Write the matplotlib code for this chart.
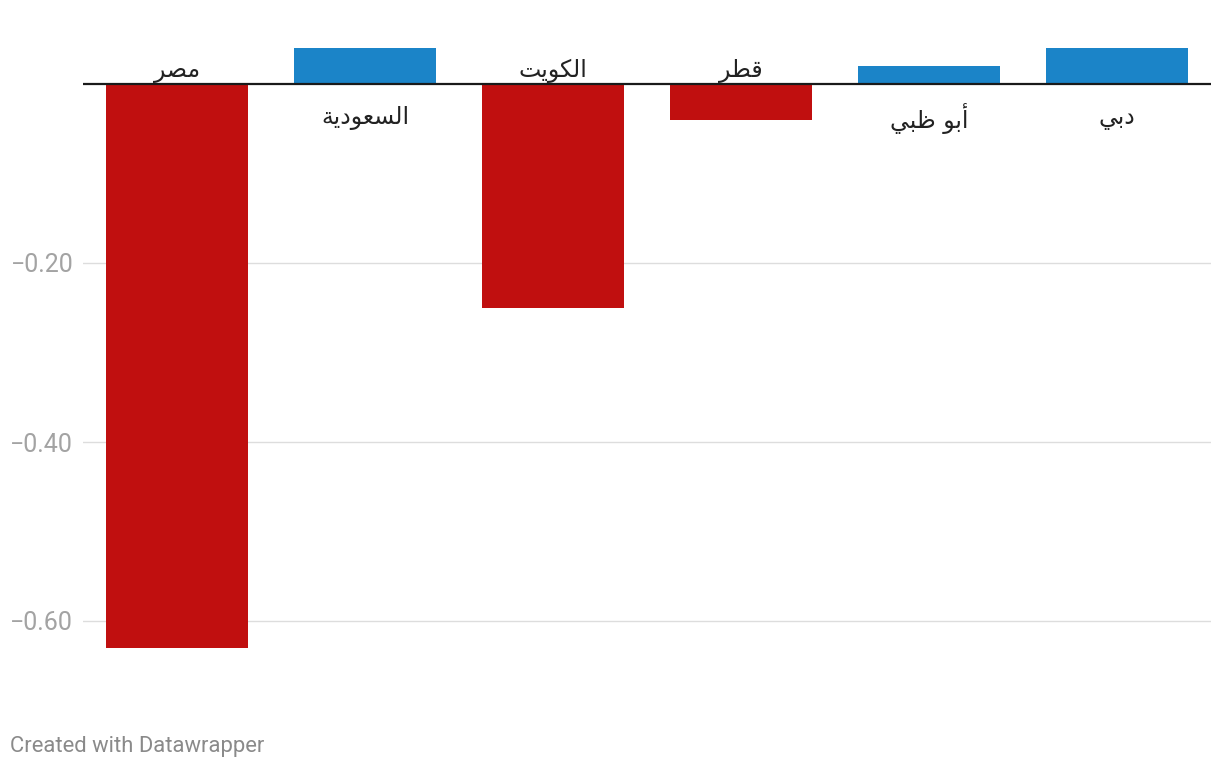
import matplotlib
matplotlib.use('Agg')
import matplotlib.pyplot as plt
import numpy as np

# data
countries = ['مصر', 'السعودية', 'الكويت', 'قطر', 'أبو ظبي', 'دبي']
values = [-0.63, 0.04, -0.25, -0.04, 0.02, 0.04]
yticks = [-0.20, -0.40, -0.60]
ytick_labels = ['\u22120.20', '\u22120.40', '\u22120.60']

red = '#c00f0f'
blue = '#1b84c8'

# minimal arabic shaping: (isolated, final, initial, medial)
forms = {
    'ا': ('\uFE8D', '\uFE8E', None, None),
    'أ': ('\uFE83', '\uFE84', None, None),
    'ب': ('\uFE8F', '\uFE90', '\uFE91', '\uFE92'),
    'ة': ('\uFE93', '\uFE94', None, None),
    'ت': ('\uFE95', '\uFE96', '\uFE97', '\uFE98'),
    'د': ('\uFEA9', '\uFEAA', None, None),
    'ر': ('\uFEAD', '\uFEAE', None, None),
    'س': ('\uFEB1', '\uFEB2', '\uFEB3', '\uFEB4'),
    'ص': ('\uFEB9', '\uFEBA', '\uFEBB', '\uFEBC'),
    'ط': ('\uFEC1', '\uFEC2', '\uFEC3', '\uFEC4'),
    'ظ': ('\uFEC5', '\uFEC6', '\uFEC7', '\uFEC8'),
    'ع': ('\uFEC9', '\uFECA', '\uFECB', '\uFECC'),
    'ق': ('\uFED5', '\uFED6', '\uFED7', '\uFED8'),
    'ك': ('\uFED9', '\uFEDA', '\uFEDB', '\uFEDC'),
    'ل': ('\uFEDD', '\uFEDE', '\uFEDF', '\uFEE0'),
    'م': ('\uFEE1', '\uFEE2', '\uFEE3', '\uFEE4'),
    'و': ('\uFEED', '\uFEEE', None, None),
    'ي': ('\uFEF1', '\uFEF2', '\uFEF3', '\uFEF4'),
}

def shape(s):
    out = []
    for i, ch in enumerate(s):
        if ch not in forms:
            out.append(ch)
            continue
        f = forms[ch]
        prev = s[i-1] if i > 0 else None
        nxt = s[i+1] if i < len(s)-1 else None
        join_prev = prev in forms and forms[prev][2] is not None
        join_next = f[2] is not None and nxt in forms
        if join_prev and join_next:
            out.append(f[3])
        elif join_prev:
            out.append(f[1])
        elif join_next:
            out.append(f[2])
        else:
            out.append(f[0])
    return ''.join(out)[::-1]

fig = plt.figure(figsize=(12.2, 7.68), dpi=100)
ax = fig.add_axes([83/1220, 1-710.5/768, 1128/1220, (710.5-30.3)/768])

x = np.arange(len(countries))
colors = [red if v < 0 else blue for v in values]
ax.bar(x, values, width=0.755, color=colors, zorder=2)
ax.set_xlim(-0.5, 5.5)
ax.set_ylim(-0.70, 0.06)

for yv in yticks:
    ax.axhline(yv, color='#dddddd', lw=1, zorder=1)
ax.axhline(0, color='#1a1a1a', lw=1.6, zorder=3)

for xi, name, v in zip(x, countries, values):
    if v < 0:
        ax.text(xi, 0.008, shape(name), ha='center', va='baseline', fontsize=17,
                family=['DejaVu Sans'], color='#222222')
    else:
        ax.text(xi, -0.038, shape(name), ha='center', va='center', fontsize=17,
                family=['DejaVu Sans'], color='#222222')

ax.set_yticks(yticks)
ax.set_yticklabels(ytick_labels, family=['Roboto', 'DejaVu Sans'], fontsize=18,
                   color='#a3a3a3')
ax.tick_params(axis='y', length=0, pad=7)
ax.set_xticks([])
for sp in ax.spines.values():
    sp.set_visible(False)

fig.text(10/1220, 1-752/768, 'Created with Datawrapper', family=['Roboto'], fontsize=15.8,
         color='#8a8a8a', ha='left', va='baseline')

fig.savefig('out.png', dpi=100)
